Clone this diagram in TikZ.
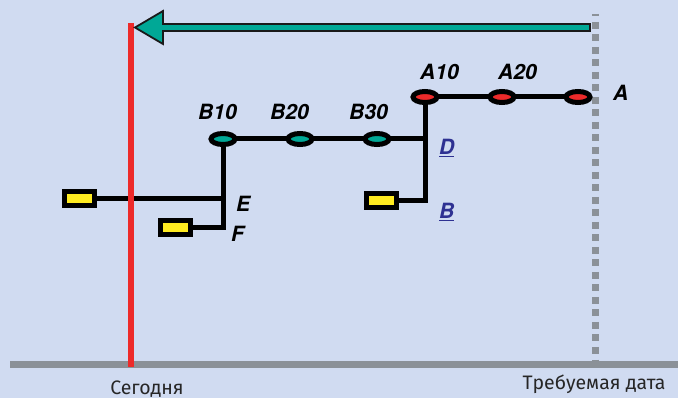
\documentclass[tikz,border=0pt]{standalone}
\usepackage{fontspec}
\setmainfont{TeX Gyre Heros}
\newfontfamily\cyrfont{Fira Sans}
\usetikzlibrary{shapes.geometric}
\pgfdeclarelayer{bg}
\pgfdeclarelayer{wires}
\pgfsetlayers{bg,wires,main}

\definecolor{paper}{RGB}{208,219,241}
\definecolor{rule}{RGB}{139,145,152}
\definecolor{today}{RGB}{237,42,42}
\definecolor{tealc}{RGB}{0,168,150}
\definecolor{redc}{RGB}{237,42,42}
\definecolor{yel}{RGB}{255,235,32}
\definecolor{linkblue}{RGB}{46,49,146}

\tikzset{
  milestone/.style={ellipse, draw=black, line width=5pt, inner sep=0pt,
    minimum width=24pt, minimum height=11pt},
  redms/.style={milestone, fill=redc},
  tealms/.style={milestone, fill=tealc},
  taskbox/.style={rectangle, draw=black, fill=yel, line width=5pt, inner sep=0pt,
    minimum width=30pt, minimum height=14pt},
  wire/.style={draw=black, line width=5pt},
  lbl/.style={anchor=base west, inner sep=0pt, font=\fontsize{21}{25}\selectfont\bfseries\itshape},
  ulbl/.style={lbl, text=linkblue},
  datelbl/.style={anchor=base, inner sep=0pt, font=\cyrfont\fontsize{19.5}{22}\selectfont, text=black!85}
}

\begin{document}
\begin{tikzpicture}[x=1pt,y=-1pt]
\useasboundingbox (0,0) rectangle (678,398);

\begin{pgfonlayer}{bg}
  \fill[paper] (0,0) rectangle (678,398);
\end{pgfonlayer}

% time axis
\fill[rule] (10,361) rectangle (678,368);
% today marker
\fill[today] (128,23) rectangle (134,367);
% required date marker
\draw[rule, line width=7pt, dash pattern=on 7pt off 5.5pt, dash phase=4.5pt]
  (595.5,14) -- (595.5,361);

% schedule shift arrow
\filldraw[fill=tealc, draw=black!90, line width=1.8pt, line join=miter]
  (590,24) -- (163,24) -- (163,11) -- (135,27.5) -- (163,44) -- (163,31) -- (590,31) -- cycle;

% milestones
\node[redms] (A10) at (425,97) {};
\node[redms] (A20) at (502,97) {};
\node[redms] (A)   at (578,97) {};
\node[tealms] (B10) at (223,139) {};
\node[tealms] (B20) at (300,139) {};
\node[tealms] (B30) at (377,139) {};

% tasks
\node[taskbox] (tE) at (79,199) {};
\node[taskbox] (tF) at (175.5,228) {};
\node[taskbox] (tB) at (381,201) {};

% network wires
\begin{pgfonlayer}{wires}
  \draw[wire] (A10.center) -- (A20.center) -- (A.center);
  \draw[wire] (B10.center) -- (B20.center) -- (B30.center) -- (A10.center |- B30.center);
  \draw[wire] (A10.center) |- (tB.center);
  \draw[wire] (B10.center) |- (tF.center);
  \draw[wire] (tE.center) -- (B10.center |- tE.center);
\end{pgfonlayer}

% labels
\node[lbl] (lA10) at (420,80) {A10};
\node[lbl] (lA20) at (498,80) {A20};
\node[lbl] (lA)   at (613,101) {A};
\node[lbl] (lB10) at (198,120) {B10};
\node[lbl] (lB20) at (270,120) {B20};
\node[lbl] (lB30) at (349,120) {B30};
\node[ulbl] (lD) at (439,155) {\underline{D}};
\node[ulbl] (lB) at (439,219) {\underline{B}};
\node[lbl] (lE) at (236,212) {E};
\node[lbl] (lF) at (231,242) {F};

\node[datelbl] (today) at (147,394) {Сегодня};
\node[datelbl] (due) at (594,389) {Требуемая дата};
\end{tikzpicture}
\end{document}
